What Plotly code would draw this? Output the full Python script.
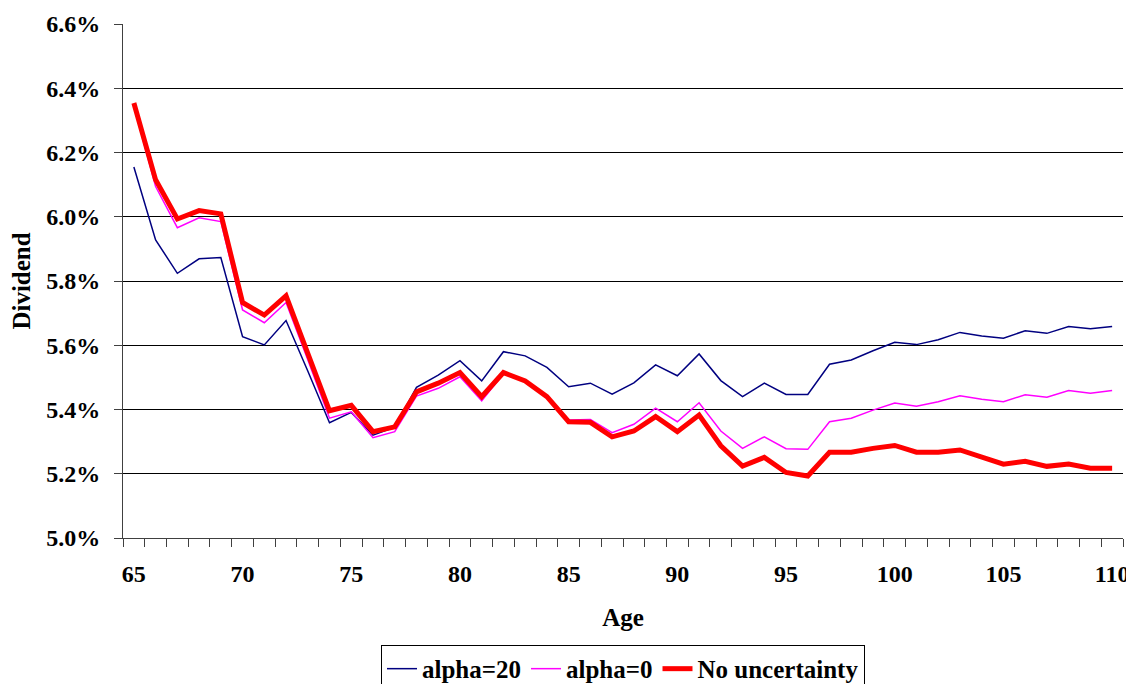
import plotly.graph_objects as go

ages = list(range(65, 111))

alpha20 = [6.155, 5.928, 5.824, 5.869, 5.873, 5.627, 5.601, 5.677, 5.520, 5.359,
           5.391, 5.320, 5.345, 5.469, 5.507, 5.552, 5.489, 5.580, 5.567, 5.531,
           5.471, 5.482, 5.448, 5.483, 5.539, 5.505, 5.573, 5.490, 5.440, 5.482,
           5.447, 5.447, 5.541, 5.554, 5.583, 5.609, 5.602, 5.617, 5.640, 5.629,
           5.622, 5.645, 5.637, 5.658, 5.651, 5.658]

alpha0 = [6.345, 6.094, 5.966, 5.997, 5.985, 5.710, 5.670, 5.733, 5.555, 5.373,
          5.393, 5.312, 5.331, 5.442, 5.466, 5.502, 5.427, 5.511, 5.487, 5.440,
          5.367, 5.369, 5.328, 5.354, 5.404, 5.362, 5.421, 5.333, 5.279, 5.315,
          5.278, 5.276, 5.362, 5.373, 5.398, 5.420, 5.410, 5.424, 5.443, 5.432,
          5.424, 5.446, 5.438, 5.459, 5.451, 5.459]

no_unc = [6.354, 6.115, 5.993, 6.019, 6.009, 5.733, 5.694, 5.754, 5.575, 5.396,
          5.413, 5.331, 5.346, 5.455, 5.482, 5.515, 5.440, 5.515, 5.489, 5.440,
          5.362, 5.360, 5.315, 5.333, 5.378, 5.331, 5.383, 5.287, 5.224, 5.251,
          5.204, 5.193, 5.267, 5.267, 5.279, 5.288, 5.267, 5.267, 5.274, 5.250,
          5.230, 5.239, 5.223, 5.230, 5.217, 5.217]

x_ticks = [65, 70, 75, 80, 85, 90, 95, 100, 105, 110]
y_ticks = [5.0, 5.2, 5.4, 5.6, 5.8, 6.0, 6.2, 6.4, 6.6]

FONT = "Liberation Serif, Times New Roman, serif"

def f(size=24):
    return dict(family=FONT, size=size, color="black", weight="bold")

fig = go.Figure()
fig.add_trace(go.Scatter(x=ages, y=alpha20, mode="lines", name="alpha=20",
                         line=dict(color="#000080", width=1.5)))
fig.add_trace(go.Scatter(x=ages, y=alpha0, mode="lines", name="alpha=0",
                         line=dict(color="#FF00FF", width=1.5)))
fig.add_trace(go.Scatter(x=ages, y=no_unc, mode="lines", name="No uncertainty",
                         line=dict(color="#FF0000", width=5)))

# page body has an 8px margin, so the figure is sized/offset to compensate
fig.update_layout(
    width=1126, height=676,
    margin=dict(l=115, r=11, t=16, b=146, autoexpand=False),
    paper_bgcolor="white", plot_bgcolor="white",
    font=f(),
    showlegend=True,
    legend=dict(orientation="h", x=0.5, xanchor="center", y=-0.208, yanchor="top",
                bordercolor="black", borderwidth=1, bgcolor="white",
                font=f(25), itemwidth=30, tracegroupgap=0),
    xaxis=dict(
        range=[64.5, 110.5], tickvals=x_ticks, ticktext=[str(t) for t in x_ticks],
        ticks="", showgrid=False, zeroline=False, automargin=False,
        showline=True, linecolor="#404040", linewidth=1,
        minor=dict(tick0=64.5, dtick=1, ticks="outside", ticklen=8,
                   tickcolor="#404040", tickwidth=1, showgrid=False),
        tickfont=f(), ticklabelstandoff=14,
        title=dict(text="Age", font=f(25), standoff=22),
    ),
    yaxis=dict(
        range=[5.0, 6.6], tickvals=y_ticks,
        ticktext=[f"{t:.1f}%" for t in y_ticks],
        ticks="outside", ticklen=8, tickcolor="#404040", tickwidth=1,
        showgrid=True, gridcolor="black", gridwidth=1, zeroline=False,
        showline=True, linecolor="#404040", linewidth=1, automargin=False,
        tickfont=f(), ticklabelstandoff=9,
        title=dict(text="Dividend", font=f(25), standoff=12),
    ),
)

fig.write_html("out.html")
